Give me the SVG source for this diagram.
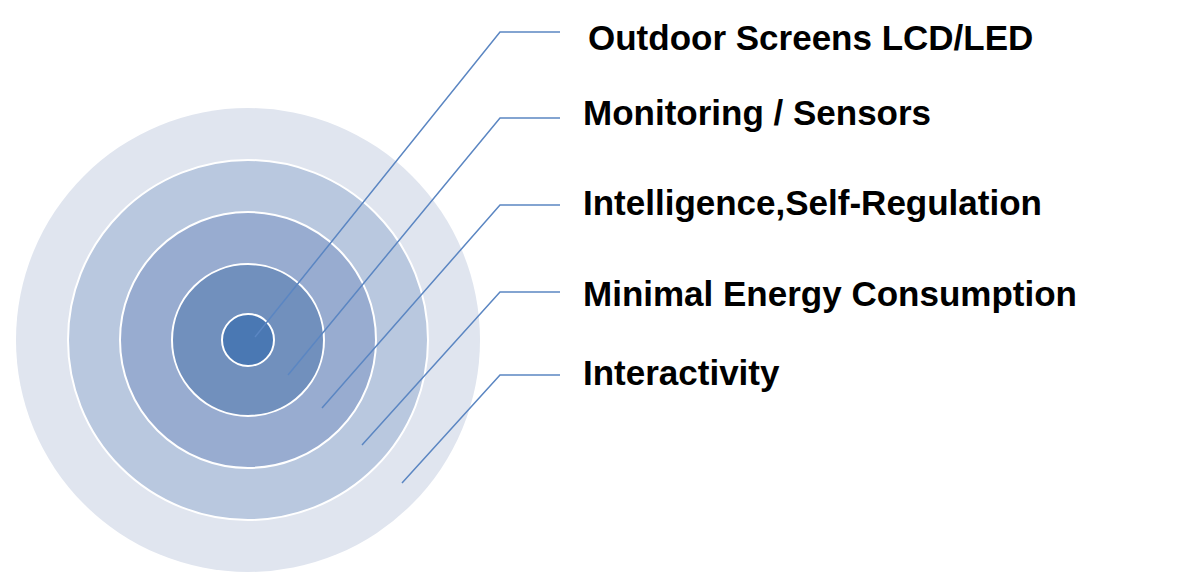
<svg xmlns="http://www.w3.org/2000/svg" width="1200" height="580" viewBox="0 0 1200 580">
<style>
.r{stroke:#fff;stroke-width:2}
.c{fill:none;stroke:#5b86c2;stroke-width:1.5}
.t{font-family:"Liberation Sans",Arial,sans-serif;font-weight:bold;font-size:35px;fill:#000}
</style>
<rect width="1200" height="580" fill="#fff"/>
<g id="rings">
<circle cx="248" cy="340" r="232" fill="#e0e5ef"/>
<circle class="r" cx="248" cy="340" r="180" fill="#b9c8df"/>
<circle class="r" cx="248" cy="340" r="128" fill="#98acd0"/>
<circle class="r" cx="248" cy="340" r="76" fill="#7190bd"/>
<circle class="r" cx="248" cy="340" r="26" fill="#4a78b3"/>
</g>
<g id="connectors">
<polyline class="c" points="255,337 500,32 560,32"/>
<polyline class="c" points="288,375 500,118 560,118"/>
<polyline class="c" points="322,408 500,205 560,205"/>
<polyline class="c" points="362,445 500,292 560,292"/>
<polyline class="c" points="402,483 500,375 560,375"/>
</g>
<g id="labels">
<text class="t" x="588" y="50">Outdoor Screens LCD/LED</text>
<text class="t" x="583" y="125">Monitoring / Sensors</text>
<text class="t" x="583" y="215">Intelligence,Self-Regulation</text>
<text class="t" x="583" y="306">Minimal Energy Consumption</text>
<text class="t" x="583" y="385">Interactivity</text>
</g>
</svg>
